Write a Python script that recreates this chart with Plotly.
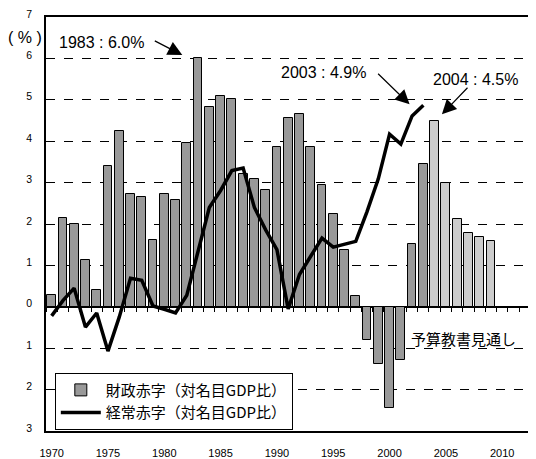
import plotly.graph_objects as go

# 財政赤字（対名目GDP比）, 1970-2009 (2004年以降は予算教書見通し)
YEARS = list(range(1970, 2010))
FISCAL = [0.28, 2.14, 2.00, 1.12, 0.41, 3.41, 4.24, 2.72, 2.66, 1.61,
          2.72, 2.58, 3.96, 6.00, 4.82, 5.10, 5.03, 3.20, 3.09, 2.83,
          3.86, 4.56, 4.65, 3.86, 2.94, 2.24, 1.38, 0.26, -0.79, -1.39,
          -2.45, -1.28, 1.51, 3.45, 4.49, 3.00, 2.11, 1.79, 1.69, 1.58]
FORECAST_FROM = 2004

# 経常赤字（対名目GDP比）, 1970-2003
CA_YEARS = list(range(1970, 2004))
CURRENT = [-0.22, 0.15, 0.45, -0.49, -0.15, -1.07, -0.25, 0.69, 0.64, 0.02,
           -0.06, -0.15, 0.28, 1.30, 2.40, 2.81, 3.29, 3.35, 2.40, 1.86,
           1.38, -0.05, 0.78, 1.22, 1.66, 1.44, 1.50, 1.58, 2.30, 3.09,
           4.17, 3.93, 4.61, 4.87]

Y_TICKS = list(range(-3, 8))
Y_TICKTEXT = [str(abs(v)) for v in Y_TICKS]
X_TICKS = list(range(1970, 2011, 5))

FONT = "Liberation Sans, Arial, sans-serif"
JP_FONT = "Noto Sans CJK JP, sans-serif"
DARK = "#999999"
LIGHT = "#cccccc"

bar_colors = [LIGHT if y >= FORECAST_FROM else DARK for y in YEARS]

fig = go.Figure()
fig.add_trace(go.Bar(
    x=YEARS, y=FISCAL, name="財政赤字（対名目GDP比）",
    marker=dict(color=bar_colors, line=dict(color="black", width=1)),
    width=0.78,
))
fig.add_trace(go.Scatter(
    x=CA_YEARS, y=CURRENT, name="経常赤字（対名目GDP比）",
    mode="lines", line=dict(color="black", width=3.5),
))
# dummy trace so the zero-line tick axis is drawn
fig.add_trace(go.Scatter(x=[YEARS[0]], y=[None], xaxis="x2", showlegend=False, hoverinfo="skip"))

x_range = [1969.5, 2013.0]
# page body has an 8px margin, so the figure is 8px smaller than the window
fig.update_layout(
    width=528, height=451,
    margin=dict(l=38, r=0, t=5, b=28),
    paper_bgcolor="white", plot_bgcolor="white",
    font=dict(family=FONT, color="black", size=10),
    bargap=0,
    xaxis=dict(
        range=x_range, tickmode="array", tickvals=X_TICKS,
        showgrid=False, zeroline=False, ticks="",
        showline=True, linecolor="black", linewidth=1.5, mirror=True,
        ticklabelstandoff=11, tickfont=dict(size=11), ticklabeloverflow="allow",
    ),
    xaxis2=dict(
        range=x_range, overlaying="x", anchor="free", position=0.3,
        tickmode="array", tickvals=[y - 0.5 for y in YEARS] + [y + 0.5 for y in range(2009, 2013)],
        ticks="outside", ticklen=4, tickcolor="black", tickwidth=1,
        showticklabels=False, showgrid=False, zeroline=False, showline=False,
    ),
    yaxis=dict(
        range=[-3, 7], tickmode="array", tickvals=Y_TICKS, ticktext=Y_TICKTEXT,
        showgrid=True, gridcolor="black", griddash="dash", gridwidth=1,
        zeroline=True, zerolinecolor="black", zerolinewidth=1.5,
        showline=True, linecolor="black", linewidth=1.5, ticks="",
        ticklabelstandoff=10, ticklabelshift=-3, tickfont=dict(size=10.5),
        ticklabeloverflow="allow",
    ),
    legend=dict(
        x=0.018, y=0.141, xanchor="left", yanchor="top",
        bgcolor="white", bordercolor="black", borderwidth=1,
        font=dict(family=JP_FONT, size=15), itemwidth=40, tracegroupgap=0,
    ),
    showlegend=True,
)

ann_font = dict(family=FONT, size=16, color="black")
fig.add_annotation(xref="paper", yref="paper", x=-0.043, y=0.95, text="( % )",
                   xanchor="center", yanchor="middle", showarrow=False, font=ann_font)
fig.add_annotation(x=1974.44, y=6.38, text="1983 : 6.0%", showarrow=False, font=ann_font)
fig.add_annotation(x=1994.16, y=5.65, text="2003 : 4.9%", showarrow=False, font=ann_font)
fig.add_annotation(x=2007.6, y=5.48, text="2004 : 4.5%", showarrow=False, font=ann_font)
fig.add_annotation(x=2006.6, y=-0.77, text="予算教書見通し", showarrow=False,
                   font=dict(family=JP_FONT, size=15, color="black"))

arrow = dict(showarrow=True, arrowhead=2, arrowsize=2.4, arrowwidth=1.2,
             arrowcolor="black", text="", axref="pixel", ayref="pixel")
fig.add_annotation(x=1981.6, y=6.08, ax=-29, ay=-15, **arrow)
fig.add_annotation(x=2001.78, y=4.89, ax=-33, ay=-32, **arrow)
fig.add_annotation(x=2004.65, y=4.65, ax=27, ay=-28, **arrow)

fig.write_html("out.html")
